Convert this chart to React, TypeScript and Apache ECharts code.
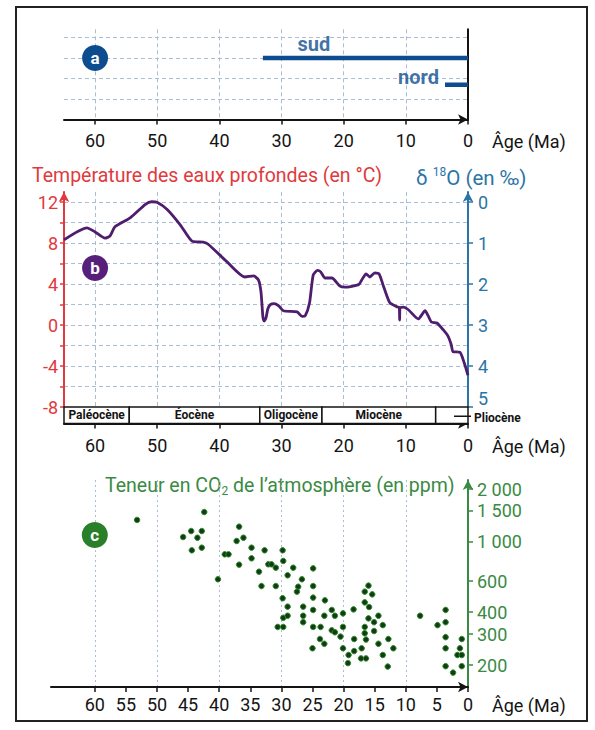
import React, { useEffect, useRef } from 'react';
import * as echarts from 'echarts';

// ---------- data ----------
const ageTicks10 = [0, 10, 20, 30, 40, 50, 60];
const ageTicks5 = [0, 5, 10, 15, 20, 25, 30, 35, 40, 45, 50, 55, 60];
const ageGridLines = [10, 20, 30, 40, 50, 60];

// panel a : ice sheets
const sudAges = [33, 0];
const sudLevel = 3;
const nordAges = [3.7, 0];
const nordLevel = 1.7;
const levelsA = [1, 2, 3, 4];

// panel b : deep water temperature
const tempAges = [65, 61.3, 60, 58.4, 57.6, 56.8, 54.3, 51.9, 50.9, 50.05, 48.4, 46.3, 44.4, 42.6, 41.8, 38.8, 35.9, 34.5, 33.7, 33.3, 33.0, 32.8, 32.5, 32.2, 31.8, 31.2, 30.5, 29.7, 27.5, 26.7, 26.2, 25.5, 24.9, 24.2, 23.7, 23.0, 21.9, 20.6, 19.8, 17.6, 17.1, 16.4, 15.8, 15.0, 14.3, 13.6, 12.6, 11.5, 11.05, 11.0, 10.95, 10.4, 9.6, 8.0, 6.9, 6.4, 5.9, 5.0, 4.0, 3.2, 2.7, 2.4, 1.3, 0.6, 0];
const tempValues = [8.33, 9.5, 9.1, 8.5, 8.7, 9.6, 10.5, 11.8, 12.05, 12.0, 11.3, 9.8, 8.2, 8.1, 7.9, 6.2, 4.7, 4.8, 4.4, 3.2, 0.8, 0.4, 0.7, 1.6, 2.0, 2.1, 1.9, 1.4, 1.3, 0.85, 0.9, 2.15, 4.9, 5.35, 5.2, 4.6, 4.6, 3.8, 3.7, 3.95, 4.4, 5.0, 4.7, 5.1, 5.0, 3.8, 2.2, 1.8, 1.7, 0.5, 1.7, 1.75, 1.5, 0.6, 1.4, 0.9, 0.3, 0.2, -0.45, -1.1, -1.9, -2.6, -2.65, -3.7, -4.9];
const tempTicks = [-8, -6, -4, -2, 0, 2, 4, 6, 8, 10, 12];
const tempLabels = [-8, -4, 0, 4, 8, 12];
const d18Ticks = [0, 1, 2, 3, 4, 5];

const epochNames = ['Paléocène', 'Éocène', 'Oligocène', 'Miocène', 'Pliocène'];
const epochStart = [65, 54.5, 33.5, 23.5, 5.2];
const epochEnd = [54.5, 33.5, 23.5, 5.2, 0];
const epochOutside = [false, false, false, false, true];

// panel c : atmospheric CO2
const co2Ages = [53.2, 42.4, 45.8, 44.5, 43.5, 42.8, 44.4, 42.8, 40.2, 36.8, 37.2, 36.1, 39.1, 38.5, 36.8, 34.8, 34.8, 32.7, 33.6, 32.1, 31.6, 30.9, 33.2, 30.9, 29.8, 29.7, 29.0, 29.8, 29.0, 29.7, 29.0, 30.6, 29.7,
  28.1, 27.3, 27.5, 26.7, 24.9, 24.9, 24.9, 26.5, 26.5, 26.5, 24.9, 24.9, 25.0, 23.7, 23.0, 23.1, 23.8, 23.1, 21.9, 21.4, 21.9, 21.4, 20.5, 20.1, 20.1, 20.1, 19.2, 19.3, 18.4, 18.3, 18.3, 17.1, 17.2, 16.4,
  16.6, 16.0, 15.4, 16.6, 15.9, 16.0, 16.6, 16.6, 16.4, 15.1, 14.4, 15.1, 13.7, 14.4, 13.7, 12.8, 12.9, 12.0, 7.7, 4.9, 3.6, 3.6, 3.6, 3.6, 3.6, 2.4, 1.3, 1.7, 1.0, 1.0, 1.0];
const co2Ppm = [1334, 1480, 1067, 1154, 1057, 1154, 897, 928, 614, 1222, 1013, 1057, 851, 851, 743, 928, 808, 897, 678, 747, 747, 714, 562, 562, 897, 780, 647, 479, 429, 371, 381, 329, 329,
  714, 557, 522, 614, 708, 562, 483, 429, 381, 350, 411, 329, 249, 329, 466, 381, 281, 264, 411, 381, 315, 307, 290, 393, 329, 249, 228, 205, 414, 281, 240, 249, 218, 218,
  522, 565, 504, 454, 427, 368, 329, 303, 279, 350, 381, 312, 337, 264, 228, 281, 196, 249, 381, 337, 411, 350, 288, 249, 197, 181, 249, 228, 228, 281, 197];
const co2Ticks = [200, 300, 400, 600, 1000, 1500, 2000];
const co2Min = 150;
const co2Max = 2250;

// ---------- styles ----------
const FONT = 'Roboto';
const BLACK = '#141414';
const RED = '#e03a3e';
const BLUE_AX = '#2b74a6';
const GREEN = '#3a8a44';
const DARKBLUE = '#0d4d8f';
const PURPLE = '#4e1d6e';
const GRIDC = '#a9bdd6';

const lg = (v: number) => Math.log10(v);

function fmtThousands(n: number) {
  return String(n).replace(/\B(?=(\d{3})+(?!\d))/g, ' ');
}

export default function App() {
  const ref = useRef<HTMLDivElement>(null);

  useEffect(() => {
    if (!ref.current) return;
    const chart = echarts.init(ref.current, null, { renderer: 'svg' });

    const dashed = { show: true, lineStyle: { color: GRIDC, type: [4, 3] as any, width: 1 } };
    const xLineBase = (color: string) => ({
      show: true,
      onZero: false,
      symbol: ['none', 'arrow'],
      symbolSize: [8, 10],
      lineStyle: { color, width: 2 },
    });

    const option: any = {
      animation: false,
      backgroundColor: '#fff',
      textStyle: { fontFamily: FONT },
      grid: [
        { left: 64, right: 127, top: 29.3, height: 90.2 },
        { left: 64, right: 127, top: 192, height: 215 },
        { left: 64, right: 127, top: 407, height: 16.5 },
        { left: 51, right: 127, top: 480, height: 207 },
      ],
      xAxis: [
        {
          gridIndex: 0, type: 'value', min: 0, max: 65, inverse: true,
          axisLine: xLineBase(BLACK),
          axisTick: { show: true, customValues: ageTicks10, length: 5, lineStyle: { color: BLACK, width: 1.5 } },
          axisLabel: { customValues: ageTicks10, color: BLACK, fontSize: 18, margin: 12 },
          splitLine: dashed,
        },
        {
          gridIndex: 1, type: 'value', min: 0, max: 65, inverse: true,
          axisLine: { show: false, onZero: false },
          axisTick: { show: false, customValues: ageGridLines },
          axisLabel: { show: false },
          splitLine: dashed,
        },
        {
          gridIndex: 2, type: 'value', min: 0, max: 65, inverse: true,
          axisLine: xLineBase(BLACK),
          axisTick: { show: true, customValues: ageTicks10, length: 5, lineStyle: { color: BLACK, width: 1.5 } },
          axisLabel: { customValues: ageTicks10, color: BLACK, fontSize: 18, margin: 13 },
          splitLine: { show: false },
        },
        {
          gridIndex: 3, type: 'value', min: 0, max: 67.04, inverse: true,
          axisLine: xLineBase(BLACK),
          axisTick: { show: true, customValues: ageTicks5, length: 5, lineStyle: { color: BLACK, width: 1.5 } },
          axisLabel: { customValues: ageTicks5, color: BLACK, fontSize: 18, margin: 8 },
          splitLine: { show: false },
        },
        {
          gridIndex: 3, type: 'value', min: 0, max: 67.04, inverse: true, position: 'top',
          axisLine: { show: false, onZero: false },
          axisTick: { show: false, customValues: ageGridLines },
          axisLabel: { show: false },
          splitLine: { show: true, lineStyle: { color: GRIDC, type: [2, 3] as any, width: 1 } },
        },
      ],
      yAxis: [
        {
          gridIndex: 0, type: 'value', min: 0, max: 4.4, position: 'right',
          axisLine: { show: true, onZero: false, lineStyle: { color: BLACK, width: 2 } },
          axisTick: { show: false, customValues: levelsA },
          axisLabel: { show: false },
          splitLine: dashed,
        },
        {
          gridIndex: 1, type: 'value', min: -8, max: 13, position: 'left',
          axisLine: { show: true, onZero: false, symbol: ['none', 'arrow'], symbolSize: [8, 10], lineStyle: { color: RED, width: 2 } },
          axisTick: { show: true, customValues: tempTicks, length: 4, lineStyle: { color: RED, width: 1.5 } },
          axisLabel: { customValues: tempLabels, color: RED, fontSize: 18, margin: 6 },
          splitLine: dashed,
        },
        {
          gridIndex: 1, type: 'value', min: -0.25, max: 5, inverse: true, position: 'right',
          axisLine: { show: true, onZero: false, symbol: ['none', 'arrow'], symbolSize: [8, 10], lineStyle: { color: BLUE_AX, width: 2 } },
          axisTick: { show: true, customValues: d18Ticks, length: 5, lineStyle: { color: BLUE_AX, width: 1.5 } },
          axisLabel: {
            customValues: d18Ticks, color: BLUE_AX, fontSize: 18, margin: 10,
            formatter: (v: number) => (v === 5 ? '{up|5}' : String(v)),
            rich: { up: { color: BLUE_AX, fontSize: 18, fontFamily: FONT, padding: [0, 0, 18, 0] } },
          },
          splitLine: { show: false },
        },
        {
          gridIndex: 2, type: 'value', min: 0, max: 1, show: false,
        },
        {
          gridIndex: 3, type: 'value', min: lg(co2Min), max: lg(co2Max), position: 'right',
          axisLine: { show: true, onZero: false, symbol: ['none', 'arrow'], symbolSize: [8, 10], lineStyle: { color: GREEN, width: 2 } },
          axisTick: { show: true, customValues: co2Ticks.map(lg), length: 5, lineStyle: { color: GREEN, width: 1.5 } },
          axisLabel: {
            customValues: co2Ticks.map(lg), color: GREEN, fontSize: 18, margin: 9,
            formatter: (v: number) => fmtThousands(Math.round(Math.pow(10, v))),
          },
          splitLine: { show: false },
        },
      ],
      series: [
        {
          type: 'line', xAxisIndex: 0, yAxisIndex: 0, symbol: 'none',
          lineStyle: { color: DARKBLUE, width: 4.5 },
          data: sudAges.map((a) => [a, sudLevel]),
        },
        {
          type: 'line', xAxisIndex: 0, yAxisIndex: 0, symbol: 'none',
          lineStyle: { color: DARKBLUE, width: 4.5 },
          data: nordAges.map((a) => [a, nordLevel]),
        },
        {
          type: 'scatter', xAxisIndex: 0, yAxisIndex: 0, symbolSize: 0, silent: true,
          label: { show: true, color: DARKBLUE, fontWeight: 'bold', fontSize: 20, formatter: (p: any) => p.name },
          data: [
            { name: 'sud', value: [24.8, sudLevel], label: { position: 'top', distance: 4 } },
            { name: 'nord', value: [7.96, nordLevel], label: { position: 'inside', offset: [0, -8] } },
          ],
        },
        {
          type: 'scatter', xAxisIndex: 0, yAxisIndex: 0, symbolSize: 26, silent: true,
          itemStyle: { color: DARKBLUE, opacity: 1 },
          label: { show: true, position: 'inside', color: '#fff', fontWeight: 'bold', fontSize: 17, formatter: 'a' },
          data: [[60, 3]],
        },
        {
          type: 'line', xAxisIndex: 1, yAxisIndex: 1, symbol: 'none', smooth: 0.2,
          lineStyle: { color: PURPLE, width: 2.8 },
          data: tempAges.map((a, i) => [a, tempValues[i]]),
        },
        {
          type: 'scatter', xAxisIndex: 1, yAxisIndex: 1, symbolSize: 26, silent: true,
          itemStyle: { color: '#56207a', opacity: 1 },
          label: { show: true, position: 'inside', color: '#fff', fontWeight: 'bold', fontSize: 17, formatter: 'b' },
          data: [[60, 5.57]],
        },
        {
          type: 'custom', xAxisIndex: 2, yAxisIndex: 3, clip: false, silent: true,
          data: epochNames.map((n, i) => [epochStart[i], epochEnd[i], i]),
          renderItem: (params: any, api: any) => {
            const i = api.value(2);
            const p0 = api.coord([api.value(0), 1]);
            const p1 = api.coord([api.value(1), 0]);
            const x = Math.min(p0[0], p1[0]);
            const w = Math.abs(p1[0] - p0[0]);
            const y = p0[1];
            const h = p1[1] - p0[1];
            const children: any[] = [
              { type: 'rect', shape: { x, y, width: w, height: h }, style: { fill: '#fff', stroke: BLACK, lineWidth: 1.5 } },
            ];
            if (epochOutside[i]) {
              children.push({ type: 'line', shape: { x1: x + w - 14, y1: y + h / 2 + 1, x2: x + w + 3, y2: y + h / 2 + 1 }, style: { stroke: BLACK, lineWidth: 1.5 } });
              children.push({ type: 'text', style: { text: epochNames[i], x: x + w + 6, y: y + h / 2 + 3, align: 'left', verticalAlign: 'middle', fontSize: 12, fontWeight: 'bold', fontFamily: FONT, fill: BLACK } });
            } else {
              children.push({ type: 'text', style: { text: epochNames[i], x: x + w / 2, y: y + h / 2, align: 'center', verticalAlign: 'middle', fontSize: 12, fontWeight: 'bold', fontFamily: FONT, fill: BLACK } });
            }
            return { type: 'group', children };
          },
        },
        {
          type: 'scatter', xAxisIndex: 3, yAxisIndex: 4, symbolSize: 5.5,
          itemStyle: { color: '#123d12', borderColor: '#2f8a2f', borderWidth: 1, opacity: 1 },
          data: co2Ages.map((a, i) => [a, lg(co2Ppm[i])]),
        },
        {
          type: 'scatter', xAxisIndex: 3, yAxisIndex: 4, symbolSize: 26, silent: true,
          itemStyle: { color: '#2a7f2b', opacity: 1 },
          label: { show: true, position: 'inside', color: '#fff', fontWeight: 'bold', fontSize: 17, formatter: 'c' },
          data: [[60, lg(1096)]],
        },
      ],
      graphic: [
        { type: 'rect', shape: { x: 16, y: 7, width: 571, height: 714 }, style: { fill: 'none', stroke: '#222', lineWidth: 2 }, silent: true },
        { type: 'text', x: 32, y: 175, style: { text: 'Température des eaux profondes (en °C)', fill: RED, fontSize: 19.5, fontFamily: FONT, verticalAlign: 'middle' } },
        {
          type: 'text', x: 416, y: 178,
          style: {
            text: '{a|δ }{s|18}{a|O (en ‰)}', verticalAlign: 'middle',
            rich: {
              a: { fill: BLUE_AX, fontSize: 20.5, fontFamily: FONT, lineHeight: 24, verticalAlign: 'middle' },
              s: { fill: BLUE_AX, fontSize: 12, fontFamily: FONT, lineHeight: 12, verticalAlign: 'top' },
            },
          },
        },
        {
          type: 'text', x: 105, y: 485,
          style: {
            text: '{a|Teneur en CO}{s|2}{a| de l’atmosphère (en ppm)}', verticalAlign: 'middle',
            rich: {
              a: { fill: GREEN, fontSize: 19.5, fontFamily: FONT, lineHeight: 24, verticalAlign: 'middle' },
              s: { fill: GREEN, fontSize: 12, fontFamily: FONT, lineHeight: 12, verticalAlign: 'bottom' },
            },
          },
        },
        { type: 'text', x: 492, y: 141.5, style: { text: 'Âge (Ma)', fill: BLACK, fontSize: 18, fontFamily: FONT, verticalAlign: 'middle' } },
        { type: 'text', x: 492, y: 446.5, style: { text: 'Âge (Ma)', fill: BLACK, fontSize: 18, fontFamily: FONT, verticalAlign: 'middle' } },
        { type: 'text', x: 492, y: 705, style: { text: 'Âge (Ma)', fill: BLACK, fontSize: 18, fontFamily: FONT, verticalAlign: 'middle' } },
      ],
    };

    chart.setOption(option);
    return () => chart.dispose();
  }, []);

  return (
    <div
      ref={ref}
      style={{ position: 'absolute', left: 0, top: 0, width: 595, height: 730, background: '#fff' }}
    />
  );
}
